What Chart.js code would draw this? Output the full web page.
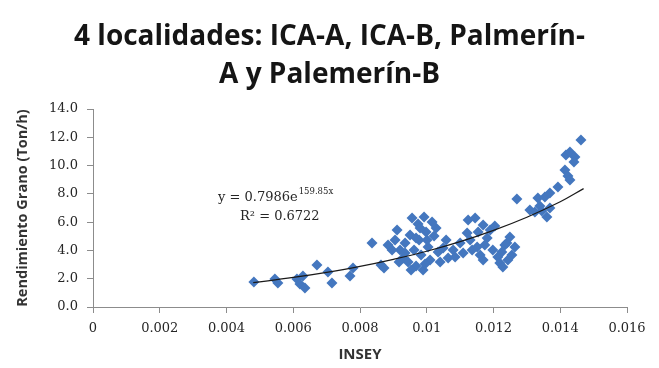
<!DOCTYPE html>
<html>
<head>
<meta charset="utf-8">
<script src="https://cdn.jsdelivr.net/npm/chart.js@4"></script>
<style>
	html, body { margin: 0; padding: 0; background: #fff; }
	#wrap { width: 659px; height: 368px; }
</style>
</head>
<body>
<div id="wrap"><canvas id="chart" width="659" height="368"></canvas></div>
<script>
// values
const insey = [
	0.00482, 0.00554, 0.00545, 0.00611, 0.00620, 0.00635, 0.00629, 0.00671, 0.00704, 0.00716,
	0.00779, 0.00770, 0.00836, 0.00863, 0.00872, 0.00884, 0.00905, 0.00911, 0.00920, 0.00929,
	0.00935, 0.00944, 0.00950, 0.00956, 0.00962, 0.00968, 0.00974, 0.00977, 0.00983, 0.00989,
	0.00992, 0.00998, 0.01004, 0.01010, 0.01016, 0.01022, 0.01028, 0.01034, 0.01040, 0.01049,
	0.01058, 0.01064, 0.00935, 0.00917, 0.00896, 0.00968, 0.00980, 0.01001, 0.00995, 0.00953,
	0.01079, 0.01085, 0.01100, 0.01109, 0.01121, 0.01124, 0.01136, 0.01145, 0.01151, 0.01160,
	0.01169, 0.01169, 0.01181, 0.01190, 0.01198, 0.01204, 0.01213, 0.01219, 0.01228, 0.01234,
	0.01240, 0.01249, 0.01255, 0.01264, 0.01270, 0.01130, 0.01174, 0.01225, 0.01154, 0.01243,
	0.01324, 0.01339, 0.01345, 0.01360, 0.01369, 0.01333, 0.01354, 0.01369, 0.01393, 0.01414,
	0.01423, 0.01429, 0.01417, 0.01429, 0.01444, 0.01441, 0.01462, 0.01309
];
const rendimiento = [
	1.77, 1.70, 1.98, 1.98, 1.63, 1.34, 2.19, 2.97, 2.48, 1.70,
	2.76, 2.19, 4.53, 2.97, 2.76, 4.38, 4.74, 5.45, 4.03, 3.47,
	4.53, 3.18, 5.09, 6.29, 4.03, 2.90, 5.87, 4.74, 3.68, 2.62,
	6.36, 5.30, 4.24, 3.32, 6.01, 5.02, 5.59, 3.89, 3.18, 4.17,
	4.74, 3.47, 3.82, 3.18, 4.03, 4.88, 5.59, 4.74, 3.04, 2.62,
	4.03, 3.54, 4.53, 3.82, 5.23, 6.15, 4.03, 6.29, 4.24, 3.68,
	5.80, 3.32, 4.88, 5.45, 4.03, 5.73, 3.54, 3.11, 2.83, 4.38,
	4.53, 4.95, 3.68, 4.24, 7.64, 4.74, 4.38, 3.89, 5.30, 3.32,
	6.72, 7.14, 6.79, 6.36, 7.00, 7.71, 7.78, 8.06, 8.49, 9.69,
	9.26, 8.98, 10.75, 10.96, 10.61, 10.25, 11.81, 6.86
];

// trend line as drawn in the picture
const trendX = [0.0048, 0.006, 0.007, 0.008, 0.009, 0.010, 0.011, 0.012, 0.013, 0.014, 0.0147];
const trendY = [1.72, 2.09, 2.45, 2.87, 3.37, 3.94, 4.62, 5.42, 6.35, 7.44, 8.37];

const titleLines = ['4 localidades: ICA-A, ICA-B, Palmerín-', 'A y Palemerín-B'];
const eqMain = 'y = 0.7986e';
const eqSup = '159.85x';
const eqR2 = 'R² = 0.6722';

const axisColor = '#8c8c8c';
const tickColor = '#262626';
const tickFont = { family: '"DejaVu Serif", serif', size: 13 };

// two-line title centred on the whole canvas
let chartTitle = {
	id: 'chartTitle',
	afterDraw (chart) {
		let { ctx, width } = chart;
		ctx.save();
		ctx.fillStyle = '#151515';
		ctx.textAlign = 'center';
		ctx.textBaseline = 'alphabetic';
		ctx.font = 'bold 28px "Open Sans", sans-serif';
		ctx.fillText(titleLines[0], width / 2, 45);
		ctx.fillText(titleLines[1], width / 2, 83);
		ctx.restore();
	},
};

// equation text next to the trend line
let equationLabel = {
	id: 'equationLabel',
	afterDatasetsDraw (chart) {
		let { ctx } = chart;
		ctx.save();
		ctx.fillStyle = '#262626';
		ctx.textBaseline = 'alphabetic';
		ctx.font = '13px "DejaVu Serif", serif';
		ctx.fillText(eqMain, 218, 201);
		let w = ctx.measureText(eqMain).width;
		ctx.font = '8.5px "DejaVu Serif", serif';
		ctx.fillText(eqSup, 218 + w + 1, 194);
		ctx.font = '13px "DejaVu Serif", serif';
		ctx.fillText(eqR2, 240, 220);
		ctx.restore();
	},
};

let scatterPoints = insey.map((x, i) => ({ x: x, y: rendimiento[i] }));
let trendPoints = trendX.map((x, i) => ({ x: x, y: trendY[i] }));

new Chart(document.getElementById('chart'), {
	type: 'scatter',
	data: {
		datasets: [
			{
				type: 'line',
				data: trendPoints,
				borderColor: '#1a1a1a',
				borderWidth: 1.2,
				pointRadius: 0,
				tension: 0.4,
				fill: false,
			},
			{
				data: scatterPoints,
				pointStyle: 'rectRot',
				pointRadius: 5.5,
				pointBackgroundColor: '#4477bf',
				pointBorderColor: '#4477bf',
				pointBorderWidth: 0,
			},
		],
	},
	options: {
		responsive: false,
		animation: false,
		layout: { padding: { left: 0, right: 32, top: 109, bottom: 4 } },
		plugins: {
			legend: { display: false },
			tooltip: { enabled: false },
			title: { display: false },
		},
		scales: {
			x: {
				type: 'linear',
				min: 0,
				max: 0.016,
				afterFit: (s) => { s.height = 57; },
				ticks: {
					stepSize: 0.002,
					color: tickColor,
					font: tickFont,
					padding: 8,
					callback: (v) => parseFloat(v.toFixed(3)).toString(),
				},
				grid: { drawOnChartArea: false, color: axisColor, tickLength: 6 },
				border: { color: axisColor },
				title: {
					display: true,
					text: 'INSEY',
					color: '#333',
					font: { family: '"Open Sans", sans-serif', size: 15, weight: 'bold' },
					padding: { top: 0, bottom: 0 },
				},
			},
			y: {
				min: 0,
				max: 14,
				afterFit: (s) => { s.width = 93; },
				ticks: {
					stepSize: 2,
					color: tickColor,
					font: tickFont,
					padding: 9,
					callback: (v) => v.toFixed(1),
				},
				grid: { drawOnChartArea: false, color: axisColor, tickLength: 6 },
				border: { color: axisColor },
				title: {
					display: true,
					text: 'Rendimiento Grano (Ton/h)',
					color: '#333',
					font: { family: '"Open Sans", sans-serif', size: 14.5, weight: 'bold' },
					padding: { top: 14, bottom: 0 },
				},
			},
		},
	},
	plugins: [ chartTitle, equationLabel ],
});
</script>
</body>
</html>
